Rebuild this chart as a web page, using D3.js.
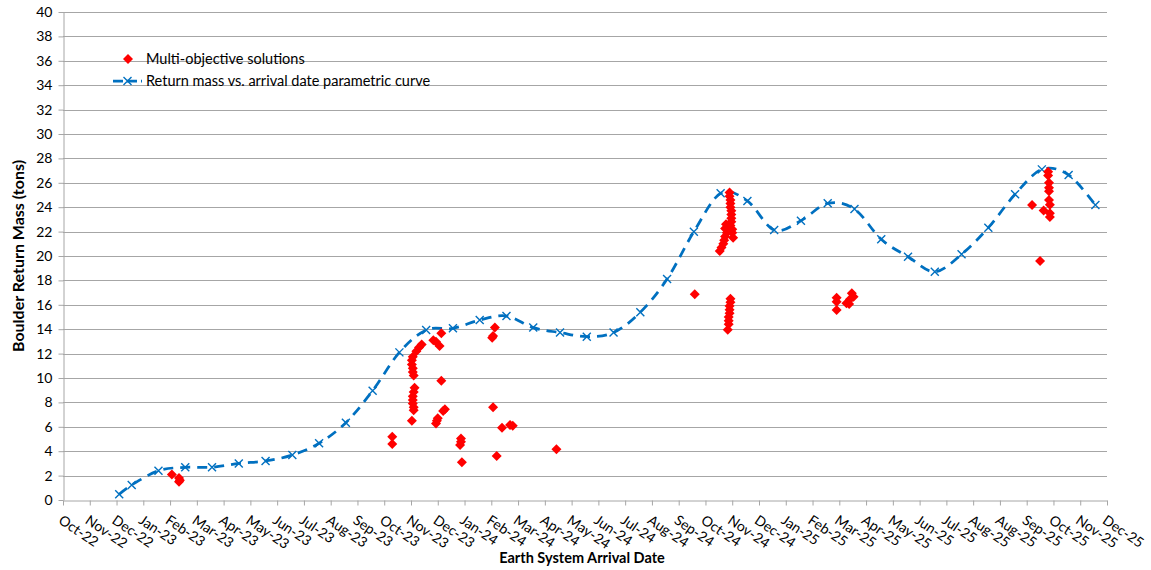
<!DOCTYPE html>
<html>
<head>
<meta charset="utf-8">
<script src="https://cdn.jsdelivr.net/npm/d3@7"></script>
<style>
  html, body { margin: 0; padding: 0; background: #fff; }
  svg { display: block; font-family: Lato, "Open Sans", sans-serif; }
</style>
</head>
<body>
<svg id="chart" width="1151" height="570"></svg>
<script>
// Parametric curve: Earth-system arrival date vs. boulder return mass (tons)
const curveDates = ["2022-12-18","2023-01-01","2023-01-31","2023-03-02","2023-04-01","2023-05-01","2023-05-31",
  "2023-06-30","2023-07-30","2023-08-29","2023-09-28","2023-10-28","2023-11-27","2023-12-27","2024-01-26",
  "2024-02-25","2024-03-26","2024-04-25","2024-05-25","2024-06-24","2024-07-24","2024-08-23","2024-09-22",
  "2024-10-22","2024-11-21","2024-12-21","2025-01-20","2025-02-19","2025-03-21","2025-04-20","2025-05-20",
  "2025-06-19","2025-07-19","2025-08-18","2025-09-17","2025-10-17","2025-11-16","2025-12-16"];
const curveMass = [0.47,1.23,2.40,2.68,2.68,3.0,3.2,3.69,4.65,6.34,8.96,12.1,13.93,14.07,14.75,15.08,14.13,13.72,
  13.39,13.72,15.39,18.11,21.99,25.14,24.51,22.13,22.89,24.32,23.85,21.37,19.94,18.71,20.14,22.32,25.06,27.1,26.64,24.18];

// Multi-objective optimisation solutions
const solutionDates = [
  "2023-02-15","2023-02-23","2023-02-24","2023-02-23",
  "2023-10-20","2023-10-20",
  "2023-11-12","2023-11-11","2023-11-11","2023-11-12","2023-11-12","2023-11-13","2023-11-14","2023-11-13",
  "2023-11-12","2023-11-12","2023-11-12","2023-11-13","2023-11-13","2023-11-11","2023-11-16","2023-11-19","2023-11-22",
  "2023-12-05","2023-12-08","2023-12-12","2023-12-14","2023-12-14","2023-12-18","2023-12-16","2023-12-09","2023-12-08","2023-12-10",
  "2024-01-05","2024-01-04","2024-01-05","2024-01-06",
  "2024-02-12","2024-02-09","2024-02-10","2024-02-10","2024-02-14","2024-02-20","2024-02-29","2024-03-03","2024-04-21",
  "2024-09-23",
  "2024-11-01","2024-11-01","2024-11-02","2024-11-02","2024-11-02","2024-11-03","2024-11-03","2024-11-03","2024-11-03",
  "2024-11-02","2024-11-04","2024-11-04","2024-11-05","2024-10-28","2024-10-27","2024-10-29","2024-10-27","2024-10-26",
  "2024-10-25","2024-10-23","2024-10-21",
  "2024-11-02","2024-11-02","2024-11-01","2024-11-01","2024-11-01","2024-10-31","2024-10-31","2024-10-31","2024-10-30",
  "2025-03-01","2025-03-01","2025-03-01","2025-03-12","2025-03-15","2025-03-18","2025-03-20","2025-03-16",
  "2025-10-06","2025-10-19","2025-10-15","2025-10-24","2025-10-24","2025-10-25","2025-10-25","2025-10-25","2025-10-25",
  "2025-10-26","2025-10-26","2025-10-26"];
const solutionMass = [
  2.08,1.8,1.62,1.5,
  5.19,4.6,
  11.75,11.45,11.1,10.8,10.5,10.2,9.2,8.85,
  8.5,8.2,7.9,7.6,7.35,6.5,12.2,12.5,12.75,
  13.1,12.98,12.62,13.66,9.78,7.43,7.3,6.5,6.28,6.7,
  5.05,4.5,4.78,3.09,
  14.13,13.3,13.44,7.6,3.6,5.93,6.15,6.09,4.15,
  16.86,
  25.2,24.9,24.6,24.3,24.0,23.7,23.4,23.1,22.8,
  22.5,22.2,21.9,21.5,22.6,22.25,21.9,21.6,21.3,
  21.0,20.7,20.4,
  16.5,16.2,15.9,15.6,15.3,15.0,14.7,14.4,13.95,
  16.58,16.26,15.57,16.12,16.07,16.94,16.66,16.45,
  24.18,23.72,19.59,26.9,26.6,26.0,25.6,25.3,24.6,
  24.2,23.5,23.2];

// Date axis: one tick every 30 days from the first arrival-window date
const axisStart = "2022-10-16";
const tickStepDays = 30;
const xTickLabels = ["Oct-22","Nov-22","Dec-22","Jan-23","Feb-23","Mar-23","Apr-23","May-23","Jun-23","Jul-23",
  "Aug-23","Sep-23","Oct-23","Nov-23","Dec-23","Jan-24","Feb-24","Mar-24","Apr-24","May-24","Jun-24","Jul-24",
  "Aug-24","Sep-24","Oct-24","Nov-24","Dec-24","Jan-25","Feb-25","Mar-25","Apr-25","May-25","Jun-25","Jul-25",
  "Aug-25","Aug-25","Sep-25","Oct-25","Nov-25","Dec-25"];
const yTickValues = [0,2,4,6,8,10,12,14,16,18,20,22,24,26,28,30,32,34,36,38,40];

const legendLabels = ["Multi-objective solutions", "Return mass vs. arrival date parametric curve"];

// ---------------------------------------------------------------
const parse = d3.utcParse("%Y-%m-%d");
const svg = d3.select("#chart");
const margin = { left: 63, right: 44, top: 12, bottom: 70 };
const W = 1151, H = 570;
const font = "Lato, 'Open Sans', sans-serif";

const tickDates = xTickLabels.map((_, i) => d3.utcDay.offset(parse(axisStart), i * tickStepDays));

const x = d3.scaleUtc()
  .domain([tickDates[0], tickDates[tickDates.length - 1]])
  .range([margin.left, W - margin.right]);
const y = d3.scaleLinear()
  .domain([0, 40])
  .range([H - margin.bottom, margin.top]);

const gridColor = "#A6A6A6";
const blue = "#0070C0";
const red = "#FF0000";

// horizontal gridlines
svg.append("g")
  .selectAll("line")
  .data(yTickValues.filter(v => v > 0))
  .join("line")
  .attr("x1", x.range()[0]).attr("x2", x.range()[1])
  .attr("y1", d => Math.round(y(d)) + 0.5).attr("y2", d => Math.round(y(d)) + 0.5)
  .attr("stroke", gridColor).attr("stroke-width", 1);

// y axis
const yAxis = svg.append("g")
  .attr("transform", `translate(${margin.left + 0.5},0)`)
  .call(d3.axisLeft(y).tickValues(yTickValues).tickSize(5).tickPadding(6).tickSizeOuter(0));
yAxis.select(".domain").attr("stroke", gridColor);
yAxis.selectAll(".tick line").attr("stroke", gridColor);
yAxis.selectAll(".tick text").attr("font-size", 14).attr("fill", "#000").attr("font-family", font);

// x axis
const xAxis = svg.append("g")
  .attr("transform", `translate(0,${Math.round(y(0)) + 0.5})`)
  .call(d3.axisBottom(x).tickValues(tickDates).tickFormat((d, i) => xTickLabels[i]).tickSize(5).tickSizeOuter(0));
xAxis.select(".domain").attr("stroke", gridColor);
xAxis.selectAll(".tick line").attr("stroke", gridColor);
xAxis.selectAll(".tick text")
  .attr("font-size", 14).attr("fill", "#000")
  .attr("font-family", font)
  .attr("text-anchor", "start")
  .attr("dy", null)
  .attr("y", 0)
  .attr("transform", "translate(-6,22) rotate(34)");

// axis titles
svg.append("text")
  .attr("x", 582)
  .attr("y", 563)
  .attr("text-anchor", "middle")
  .attr("font-size", 14.5).attr("font-weight", "bold").attr("fill", "#000")
  .text("Earth System Arrival Date");
svg.append("text")
  .attr("transform", `translate(24,${(y(0) + y(40)) / 2}) rotate(-90)`)
  .attr("text-anchor", "middle")
  .attr("font-size", 16).attr("font-weight", "bold").attr("fill", "#000")
  .text("Boulder Return Mass (tons)");

// parametric curve (smoothed, dashed)
const curvePts = curveDates.map((d, i) => [parse(d), curveMass[i]]);
const line = d3.line()
  .x(d => x(d[0])).y(d => y(d[1]))
  .curve(d3.curveCardinal.tension(0));
svg.append("path")
  .datum(curvePts)
  .attr("d", line)
  .attr("fill", "none")
  .attr("stroke", blue)
  .attr("stroke-width", 2.75)
  .attr("stroke-dasharray", "10,7");

const xMarkHalf = 4;
const xMarkPath = `M${-xMarkHalf},${-xMarkHalf}L${xMarkHalf},${xMarkHalf}M${-xMarkHalf},${xMarkHalf}L${xMarkHalf},${-xMarkHalf}`;
svg.append("g")
  .selectAll("path")
  .data(curvePts)
  .join("path")
  .attr("transform", d => `translate(${x(d[0])},${y(d[1])})`)
  .attr("d", xMarkPath)
  .attr("fill", "none")
  .attr("stroke", blue)
  .attr("stroke-width", 1.4);

// solutions: red diamonds
const diamondHalf = 5;
const diamondPath = `M0,${-diamondHalf}L${diamondHalf},0L0,${diamondHalf}L${-diamondHalf},0Z`;
const solPts = solutionDates.map((d, i) => [parse(d), solutionMass[i]]);
svg.append("g")
  .selectAll("path")
  .data(solPts)
  .join("path")
  .attr("transform", d => `translate(${x(d[0])},${y(d[1])})`)
  .attr("d", diamondPath)
  .attr("fill", red);

// legend
const legend = svg.append("g").attr("font-size", 14.5).attr("fill", "#000");
legend.append("path")
  .attr("transform", "translate(128,59)")
  .attr("d", diamondPath)
  .attr("fill", red);
legend.append("text").attr("x", 146).attr("y", 64).text(legendLabels[0]);
legend.append("line")
  .attr("x1", 113).attr("x2", 142).attr("y1", 81).attr("y2", 81)
  .attr("stroke", blue).attr("stroke-width", 2.75).attr("stroke-dasharray", "10,4");
legend.append("path")
  .attr("transform", "translate(127.5,81)")
  .attr("d", xMarkPath)
  .attr("fill", "none").attr("stroke", blue).attr("stroke-width", 1.4);
legend.append("text").attr("x", 146).attr("y", 86).text(legendLabels[1]);
</script>
</body>
</html>
